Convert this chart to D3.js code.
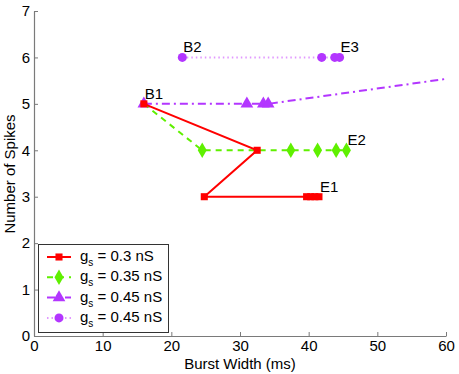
<!DOCTYPE html>
<html>
<head>
<meta charset="utf-8">
<script src="https://cdn.jsdelivr.net/npm/d3@7"></script>
<style>
  body { margin: 0; background: #fff; }
  svg { font-family: "Liberation Sans", Arial, sans-serif; }
</style>
</head>
<body>
<svg id="chart" width="459" height="374"></svg>
<script>
// Burst width (ms) vs number of spikes, one series per g_s
const redX = [16, 32.5, 24.8, 39.7, 40.3, 40.9, 41.5];
const redY = [5, 4, 3, 3, 3, 3, 3];
const greenX = [16, 24.5, 32.5, 37.4, 41.3, 44, 45.5];
const greenY = [5, 4, 4, 4, 4, 4, 4];
const triX = [16, 31, 33.4, 34.1, 75];
const triY = [5, 5, 5, 5, 5.85];
const circX = [21.6, 41.9, 43.8, 44.5];
const circY = [6, 6, 6, 6];
const legendLabels = ['0.3 nS', '0.35 nS', '0.45 nS', '0.45 nS'];
const xTicks = [0, 10, 20, 30, 40, 50, 60];
const yTicks = [0, 1, 2, 3, 4, 5, 6, 7];
const notes = [
  { text: 'B1', x: 16, y: 5 },
  { text: 'B2', x: 21.6, y: 6 },
  { text: 'E1', x: 41.5, y: 3 },
  { text: 'E2', x: 45.5, y: 4 },
  { text: 'E3', x: 44.5, y: 6 }
];

const svg = d3.select('#chart');
const x = d3.scaleLinear().domain([0, 60]).range([34, 446]);
const y = d3.scaleLinear().domain([0, 7]).range([336, 11]);

svg.append('defs').append('clipPath').attr('id', 'plotClip')
  .append('rect')
  .attr('x', 34).attr('y', 11).attr('width', 412).attr('height', 325);

const series = [
  { xs: redX, ys: redY, color: '#ff0000', lineColor: '#ff0000', dash: null, marker: 'square', skip: [] },
  { xs: greenX, ys: greenY, color: '#5ff000', lineColor: '#5ff000', dash: '6,5', marker: 'diamond', skip: [0, 2] },
  { xs: triX, ys: triY, color: '#b336ff', lineColor: '#b336ff', dash: '8,4,2,4', marker: 'triangle', skip: [4] },
  { xs: circX, ys: circY, color: '#b336ff', lineColor: '#e199ff', dash: '1.5,3', marker: 'circle', skip: [] }
];

const symbolFor = {
  square: d3.symbol().type(d3.symbolSquare).size(50),
  diamond: d3.symbol().type(d3.symbolDiamond).size(70),
  triangle: d3.symbol().type(d3.symbolTriangle).size(70),
  circle: d3.symbol().type(d3.symbolCircle).size(64)
};

// axes (MATLAB style: ticks pointing in)
const xAxis = svg.append('g')
  .attr('transform', `translate(0,${y(0)})`)
  .call(d3.axisBottom(x).tickValues(xTicks).tickSize(-4).tickSizeOuter(0).tickPadding(4));
const yAxis = svg.append('g')
  .attr('transform', `translate(${x(0)},0)`)
  .call(d3.axisLeft(y).tickValues(yTicks).tickFormat(d3.format('d'))
    .tickSize(-4).tickSizeOuter(0).tickPadding(4));
[xAxis, yAxis].forEach(a => {
  a.select('.domain').attr('stroke', '#7a7a7a').attr('stroke-width', 1.2);
  a.selectAll('.tick line').attr('stroke', '#7a7a7a');
  a.selectAll('.tick text').attr('font-size', 15).attr('fill', '#000')
    .attr('font-family', '"Liberation Sans", Arial, sans-serif');
});

svg.append('text')
  .attr('x', 240).attr('y', 369)
  .attr('text-anchor', 'middle').attr('font-size', 15)
  .text('Burst Width (ms)');
svg.append('text')
  .attr('transform', 'translate(15,174) rotate(-90)')
  .attr('text-anchor', 'middle').attr('font-size', 15)
  .text('Number of Spikes');

const plot = svg.append('g').attr('clip-path', 'url(#plotClip)');
const line = d3.line().x(d => x(d[0])).y(d => y(d[1]));

// draw back to front so red sits on top
series.slice().reverse().forEach(s => {
  const pts = s.xs.map((v, i) => [v, s.ys[i]]);
  plot.append('path')
    .attr('d', line(pts))
    .attr('fill', 'none')
    .attr('stroke', s.lineColor)
    .attr('stroke-width', 2)
    .attr('stroke-dasharray', s.dash);
  plot.selectAll(null)
    .data(pts.filter((p, i) => s.skip.indexOf(i) === -1))
    .enter().append('path')
    .attr('d', symbolFor[s.marker])
    .attr('transform', d => `translate(${x(d[0])},${y(d[1])})`)
    .attr('fill', s.color);
});

// B/E annotations
svg.selectAll('.note')
  .data(notes)
  .enter().append('text')
  .attr('class', 'note')
  .attr('x', d => x(d.x) + 1)
  .attr('y', d => y(d.y) - 5)
  .attr('font-size', 15)
  .text(d => d.text);

// legend
const legend = svg.append('g');
legend.append('rect')
  .attr('x', 38.5).attr('y', 244.5).attr('width', 130).attr('height', 88)
  .attr('fill', '#fff').attr('stroke', '#333').attr('stroke-width', 1);
series.forEach((s, i) => {
  const ly = 257 + i * 20.3;
  legend.append('line')
    .attr('x1', 47).attr('x2', 71).attr('y1', ly).attr('y2', ly)
    .attr('stroke', s.lineColor).attr('stroke-width', 2)
    .attr('stroke-dasharray', s.dash);
  legend.append('path')
    .attr('d', symbolFor[s.marker])
    .attr('transform', `translate(59,${ly})`)
    .attr('fill', s.color);
  const t = legend.append('text')
    .attr('x', 80).attr('y', ly + 4)
    .attr('font-size', 15);
  t.append('tspan').text('g');
  t.append('tspan').attr('font-size', 10).attr('dy', 5).text('s');
  t.append('tspan').attr('dy', -5).text(' = ' + legendLabels[i]);
});
</script>
</body>
</html>
